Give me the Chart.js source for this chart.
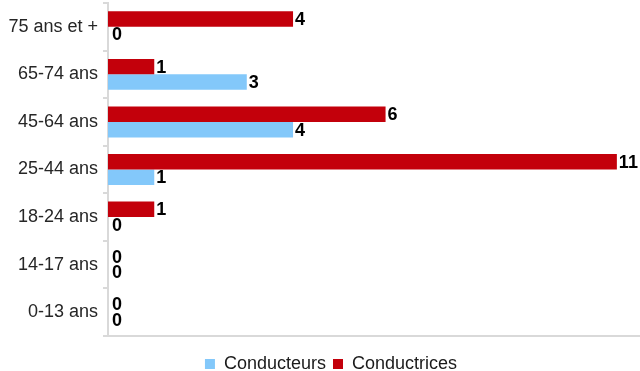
<!DOCTYPE html>
<html>
<head>
<meta charset="utf-8">
<script src="https://cdn.jsdelivr.net/npm/chart.js@4/dist/chart.umd.min.js"></script>
<style>
  html, body { margin: 0; padding: 0; background: #fff; }
  #wrap { width: 640px; height: 371px; position: relative; }
</style>
</head>
<body>
<div id="wrap"><canvas id="ageBar"></canvas></div>
<script>
const labels = ['75 ans et +', '65-74 ans', '45-64 ans', '25-44 ans', '18-24 ans', '14-17 ans', '0-13 ans']
const conductrices = [4, 1, 6, 11, 1, 0, 0]
const conducteurs = [0, 3, 4, 1, 0, 0, 0]

const RED = '#C3000B'
const BLUE = '#83C8FA'
const AXIS = '#D9D9D9'

// writes each bar's value just past its end
const valueLabels = {
  id: 'valueLabels',
  afterDatasetsDraw(chart) {
    const ctx = chart.ctx
    ctx.save()
    ctx.font = 'bold 18px "Liberation Sans", Arial, sans-serif'
    ctx.fillStyle = '#000'
    ctx.textAlign = 'left'
    ctx.textBaseline = 'middle'
    chart.data.datasets.forEach((ds, i) => {
      chart.getDatasetMeta(i).data.forEach((bar, j) => {
        const dx = ds.data[j] === 0 ? 4 : 2
        ctx.fillText(String(ds.data[j]), bar.x + dx, bar.y + 1)
      })
    })
    ctx.restore()
  }
}

// nudges the legend a bit right and down, close to the bottom edge
const legendNudge = {
  id: 'legendNudge',
  afterLayout(chart) {
    const lg = chart.legend
    if (!lg) return
    lg.left += 11
    lg.right += 11
    lg.top += 12
    lg.bottom += 12
  }
}

const ctx = document.getElementById('ageBar').getContext('2d')
new Chart(ctx, {
  type: 'bar',
  data: {
    labels,
    datasets: [
      { label: 'Conductrices', data: conductrices, backgroundColor: RED },
      { label: 'Conducteurs', data: conducteurs, backgroundColor: BLUE }
    ]
  },
  options: {
    indexAxis: 'y',
    responsive: true,
    maintainAspectRatio: false,
    animation: false,
    categoryPercentage: 0.65,
    barPercentage: 1,
    layout: { padding: { top: 3, right: 0, left: 0, bottom: 0 } },
    scales: {
      x: {
        min: 0,
        max: 11.5,
        ticks: { display: false },
        grid: { display: false },
        border: { display: true, color: AXIS, width: 2 },
        afterFit: (s) => { s.height = 0 }
      },
      y: {
        ticks: {
          color: '#262626',
          padding: 5,
          font: { family: '"Liberation Sans", Arial, sans-serif', size: 18 }
        },
        grid: { drawOnChartArea: false, drawTicks: true, tickLength: 5, color: AXIS, lineWidth: 2, offset: true },
        border: { display: true, color: AXIS, width: 2 },
        afterFit: (s) => {
          s.width = 108
          s.paddingTop = 0
          s.paddingBottom = 0
        }
      }
    },
    plugins: {
      legend: {
        position: 'bottom',
        reverse: true,
        labels: {
          boxWidth: 10,
          boxHeight: 10,
          padding: 7,
          color: '#1a1a1a',
          font: { family: '"Liberation Sans", Arial, sans-serif', size: 18 }
        }
      },
      tooltip: { enabled: false }
    }
  },
  plugins: [valueLabels, legendNudge]
})
</script>
</body>
</html>
